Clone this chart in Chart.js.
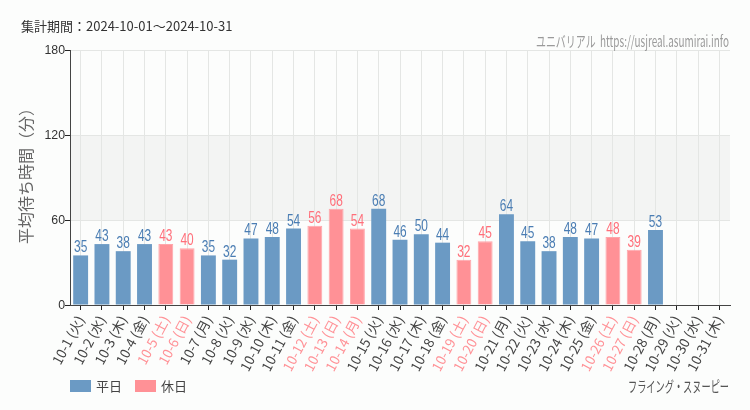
<!DOCTYPE html>
<html><head><meta charset="utf-8">
<script src="https://cdn.jsdelivr.net/npm/chart.js@4"></script>
<style>html,body{margin:0;padding:0;background:#fcfdfc}#wrap{width:750px;height:410px;position:relative}</style>
</head><body><div id="wrap"><canvas id="c" width="750" height="410"></canvas></div>
<script>
const categories = ["10-1 (火)","10-2 (水)","10-3 (木)","10-4 (金)","10-5 (土)","10-6 (日)","10-7 (月)","10-8 (火)","10-9 (水)","10-10 (木)","10-11 (金)","10-12 (土)","10-13 (日)","10-14 (月)","10-15 (火)","10-16 (水)","10-17 (木)","10-18 (金)","10-19 (土)","10-20 (日)","10-21 (月)","10-22 (火)","10-23 (水)","10-24 (木)","10-25 (金)","10-26 (土)","10-27 (日)","10-28 (月)","10-29 (火)","10-30 (水)","10-31 (木)"];
const holidayFlags = [0,0,0,0,1,1,0,0,0,0,0,1,1,1,0,0,0,0,1,1,0,0,0,0,0,1,1,0,0,0,0];
const waitValues = [35,43,38,43,43,40,35,32,47,48,54,56,68,54,68,46,50,44,32,45,64,45,38,48,47,48,39,53,null,null,null];
const weekdayValues = waitValues.map((v,i)=>holidayFlags[i]?null:v);
const holidayValues = waitValues.map((v,i)=>holidayFlags[i]?v:null);
const yTicks = [0,60,120,180];

const BLUE='#6b9ac4', PINK='#ff9196', BLUE_T='#4a7db3', PINK_T='#ff6f7a';
const SANS='"Liberation Sans",Arial,sans-serif';
const JP='"Noto Sans CJK JP",sans-serif';

function narrowText(ctx, txt, x, y, align, targetW, sx){
  const w = ctx.measureText(txt).width;
  const s = targetW ? targetW/w : sx;
  ctx.save(); ctx.translate(x,y); ctx.scale(s,1);
  ctx.textAlign = align; ctx.fillText(txt,0,0); ctx.restore();
}

const deco = {
  id:'deco',
  beforeDraw(chart){
    const {ctx, chartArea:a, scales:{y}} = chart;
    ctx.save();
    ctx.fillStyle='#fcfdfc'; ctx.fillRect(0,0,chart.width,chart.height);
    ctx.fillStyle='#f3f4f3';
    ctx.fillRect(a.left, y.getPixelForValue(120), a.right-a.left, y.getPixelForValue(60)-y.getPixelForValue(120));
    ctx.restore();
  },
  afterDatasetsDraw(chart){
    const {ctx} = chart;
    ctx.save();
    ctx.font='17px '+SANS; ctx.textBaseline='alphabetic';
    chart.data.datasets.forEach((ds,di)=>{
      const meta=chart.getDatasetMeta(di);
      meta.data.forEach((bar,i)=>{
        const v=ds.data[i]; if(v==null) return;
        ctx.fillStyle = di===0?BLUE_T:PINK_T;
        narrowText(ctx, String(v), bar.x, bar.y-3, 'center', null, 0.7);
      });
    });
    ctx.restore();
  },
  afterDraw(chart){
    const {ctx, chartArea:a, scales:{y}} = chart;
    ctx.save();
    ctx.textBaseline='middle';
    // y tick labels
    ctx.fillStyle='#333'; ctx.font='13px '+SANS;
    yTicks.forEach(v=>{ narrowText(ctx, String(v), 65, y.getPixelForValue(v), 'right', null, 0.95); });
    ctx.fillStyle='#333'; ctx.font='13px '+JP; ctx.textAlign='left';
    ctx.fillText('集計期間：2024-10-01～2024-10-31', 21, 26);
    ctx.fillStyle='#9a9a9a'; ctx.font='15px '+JP;
    narrowText(ctx, 'ユニバリアル  https://usjreal.asumirai.info', 729, 41, 'right', 193);
    ctx.fillStyle='#555'; ctx.font='15px '+JP;
    narrowText(ctx, 'フライング・スヌーピー', 729, 386, 'right', 101);
    // y title
    ctx.save(); ctx.translate(26,172); ctx.rotate(-Math.PI/2);
    ctx.fillStyle='#666'; ctx.font='16px '+JP; ctx.textAlign='center';
    ctx.fillText('平均待ち時間（分）',0,0); ctx.restore();
    // legend
    ctx.font='13px '+JP; ctx.textAlign='left';
    ctx.fillStyle=BLUE; ctx.fillRect(70,380,21,12);
    ctx.fillStyle='#444'; ctx.fillText('平日',96,386);
    ctx.fillStyle=PINK; ctx.fillRect(135,380,21,12);
    ctx.fillStyle='#444'; ctx.fillText('休日',161,386);
    ctx.restore();
  }
};

new Chart(document.getElementById('c'),{
  type:'bar',
  data:{labels:categories, datasets:[
    {label:'平日', data:weekdayValues, backgroundColor:BLUE, borderWidth:0},
    {label:'休日', data:holidayValues, backgroundColor:PINK, borderColor:'#ffa5aa', borderWidth:1}
  ]},
  options:{
    responsive:false, animation:false, devicePixelRatio:1,
    layout:{padding:{top:50,right:20,left:0,bottom:0}},
    plugins:{legend:{display:false},tooltip:{enabled:false}},
    datasets:{bar:{grouped:false, barPercentage:0.7, categoryPercentage:1}},
    scales:{
      x:{
        afterFit(s){ s.height=105; },
        grid:{color:'#e4e6e4', offset:false, tickLength:5, tickColor:'#222'},
        border:{color:'#444', width:1},
        ticks:{autoSkip:false, maxRotation:62, minRotation:62, padding:3,
          font:{size:13.5, family:JP},
          color:(c)=>holidayFlags[c.index]?PINK:'#444'}
      },
      y:{
        min:0,max:180,
        afterFit(s){ s.width=70; },
        afterBuildTicks(s){ s.ticks = yTicks.map(v=>({value:v})); },
        grid:{color:'#e4e6e4', tickLength:5, tickColor:'#222', drawOnChartArea:true},
        border:{color:'#444', width:1},
        ticks:{callback:()=>'', padding:0}
      }
    }
  },
  plugins:[deco]
});
</script></body></html>
